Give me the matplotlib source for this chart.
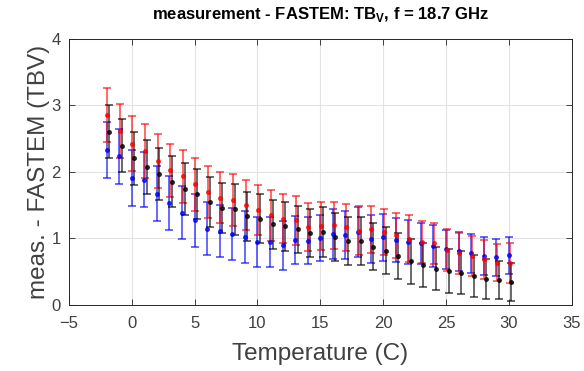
import numpy as np
import matplotlib
matplotlib.use("Agg")
import matplotlib.pyplot as plt

plt.rcParams['font.family'] = ['Liberation Sans', 'DejaVu Sans']
plt.rcParams['mathtext.fontset'] = 'custom'
plt.rcParams['mathtext.rm'] = 'Liberation Sans'
plt.rcParams['mathtext.bf'] = 'Liberation Sans:bold'

temperature = list(range(-2, 31))

red_mean = [2.85, 2.61, 2.42, 2.31, 2.16, 2.02, 1.93, 1.81, 1.69, 1.61, 1.57, 1.50, 1.42,
            1.34, 1.29, 1.27, 1.17, 1.18, 1.19, 1.16, 1.11, 1.13, 1.09, 1.04, 0.99, 0.94,
            0.92, 0.82, 0.77, 0.73, 0.68, 0.63, 0.62]
red_err = [0.41, 0.41, 0.41, 0.40, 0.40, 0.40, 0.40, 0.40, 0.39, 0.39, 0.39, 0.38, 0.38,
           0.38, 0.37, 0.37, 0.36, 0.36, 0.35, 0.36, 0.37, 0.35, 0.34, 0.34, 0.35, 0.31,
           0.31, 0.31, 0.31, 0.30, 0.29, 0.28, 0.30]

black_mean = [2.60, 2.39, 2.20, 2.07, 1.96, 1.85, 1.74, 1.66, 1.54, 1.45, 1.43, 1.33, 1.29,
              1.21, 1.18, 1.13, 1.07, 1.09, 1.02, 0.96, 0.95, 0.87, 0.81, 0.73, 0.65, 0.60,
              0.54, 0.51, 0.48, 0.43, 0.39, 0.37, 0.34]
black_err = [0.40, 0.40, 0.40, 0.40, 0.39, 0.39, 0.39, 0.38, 0.38, 0.38, 0.38, 0.37, 0.37,
             0.37, 0.37, 0.36, 0.36, 0.37, 0.36, 0.36, 0.36, 0.35, 0.35, 0.35, 0.34, 0.33,
             0.32, 0.33, 0.32, 0.31, 0.30, 0.29, 0.29]

blue_mean = [2.32, 2.23, 1.91, 1.88, 1.67, 1.53, 1.38, 1.27, 1.14, 1.11, 1.06, 1.02, 0.94,
             0.94, 0.89, 0.97, 0.96, 1.00, 1.06, 1.05, 1.09, 0.99, 1.01, 0.97, 0.94, 0.92,
             0.88, 0.83, 0.80, 0.77, 0.73, 0.71, 0.74]
blue_err = [0.42, 0.41, 0.42, 0.41, 0.41, 0.41, 0.40, 0.40, 0.40, 0.39, 0.39, 0.39, 0.38,
            0.37, 0.37, 0.36, 0.35, 0.34, 0.37, 0.36, 0.37, 0.36, 0.35, 0.33, 0.33, 0.31,
            0.31, 0.29, 0.29, 0.29, 0.29, 0.28, 0.28]

x_ticks = [-5, 0, 5, 10, 15, 20, 25, 30, 35]
y_ticks = [0, 1, 2, 3, 4]

fig = plt.figure(figsize=(5.84, 3.71), dpi=100)
ax = fig.add_axes([0.118, 0.179, 0.861, 0.717])

t = np.array(temperature, dtype=float)
series = [
    (t + 0.0, blue_mean, blue_err, '#0000ff'),
    (t + 0.05, red_mean, red_err, '#ff0000'),
    (t + 0.2, black_mean, black_err, '#000000'),
]
for xs, m, e, c in series:
    ax.errorbar(xs, m, yerr=e, fmt='o', color=c, ecolor=c, markersize=2.6,
                elinewidth=1.1, capsize=3.2, capthick=1.1, alpha=0.75, zorder=3)

ax.set_xlim(-5, 35)
ax.set_ylim(0, 4)
ax.set_xticks(x_ticks)
ax.set_yticks(y_ticks)
ax.grid(True, color='#e3e3e3', linewidth=0.8, zorder=0)
ax.set_axisbelow(True)
ax.tick_params(direction='in', length=4, width=0.6, colors='#262626', labelcolor='#404040',
               labelsize=12, top=True, right=True)
ax.tick_params(axis='x', pad=8)
ax.tick_params(axis='y', pad=6)
for s in ax.spines.values():
    s.set_color('#262626')
    s.set_linewidth(0.7)

ax.set_xlabel('Temperature (C)', fontsize=17.5, color='#404040', labelpad=9)
ax.set_ylabel('meas. - FASTEM (TBV)', fontsize=17.5, color='#404040', labelpad=1)
ax.set_title(r'measurement - FASTEM: TB$_{\mathbf{V}}$, f = 18.7 GHz', fontsize=12,
             fontweight='bold', color='#000000', pad=14)

fig.savefig('out.png', dpi=100)
